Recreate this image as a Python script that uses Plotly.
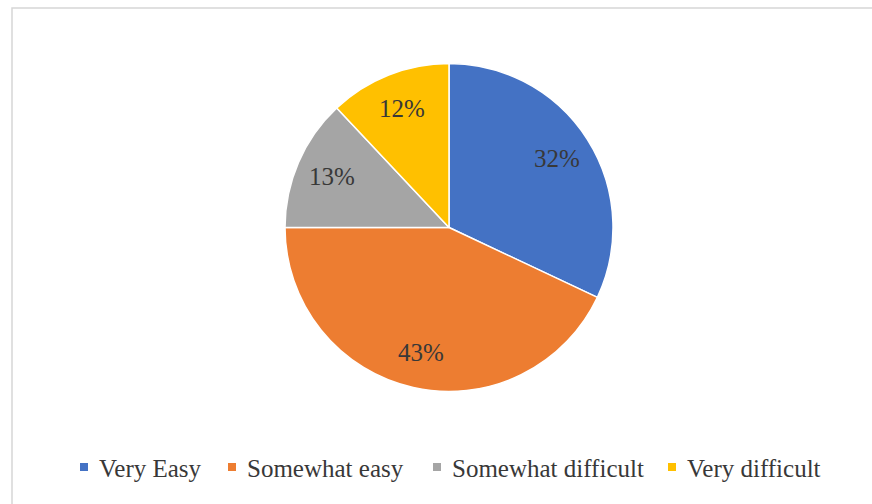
import math
import plotly.graph_objects as go

# Survey responses: how easy was it?
categories = ["Very Easy", "Somewhat easy", "Somewhat difficult", "Very difficult"]
shares = [32, 43, 13, 12]
colors = ["#4472C4", "#ED7D31", "#A5A5A5", "#FFC000"]

W, H = 872, 504
FONT = "Liberation Serif"
TEXT_COLOR = "#383838"

# Pie placement (pixels): centre and radius
cx, cy, R = 449, 227.5, 164
LABEL_R = 0.78  # data labels sit along each slice's bisector at this fraction of the radius

fig = go.Figure(
    go.Pie(
        labels=categories,
        values=shares,
        sort=False,
        direction="clockwise",
        rotation=0,
        marker=dict(colors=colors, line=dict(color="white", width=1.5)),
        textinfo="none",
        showlegend=False,
        hoverinfo="label+percent",
        domain=dict(
            x=[(cx - R) / W, (cx + R) / W],
            y=[1 - (cy + R) / H, 1 - (cy - R) / H],
        ),
    )
)

shapes = [
    # chart-area frame
    dict(type="rect", xref="paper", yref="paper",
         x0=12 / W, y0=-0.02, x1=1.02, y1=1 - 8 / H,
         line=dict(color="#d6d6d6", width=1.5), fillcolor="rgba(0,0,0,0)", layer="below"),
]
annotations = []

# Percentage labels on each slice
total = sum(shares)
cum = 0
for v in shares:
    mid = (cum + v / 2) / total * 2 * math.pi  # clockwise from 12 o'clock
    cum += v
    px = cx + LABEL_R * R * math.sin(mid)
    py = cy - LABEL_R * R * math.cos(mid)
    annotations.append(dict(text=f"{v}%", xref="paper", yref="paper",
                            x=px / W, y=1 - py / H, xanchor="center", yanchor="middle",
                            showarrow=False,
                            font=dict(family=FONT, size=25, color=TEXT_COLOR)))

# Legend row along the bottom
legend_x = [80, 228, 433, 668]
legend_y = 467
sq = 8
for name, col, lx in zip(categories, colors, legend_x):
    shapes.append(dict(type="rect", xref="paper", yref="paper",
                       x0=lx / W, x1=(lx + sq) / W,
                       y0=1 - (legend_y + sq / 2) / H, y1=1 - (legend_y - sq / 2) / H,
                       fillcolor=col, line=dict(width=0)))
    annotations.append(dict(text=name, xref="paper", yref="paper",
                            x=(lx + sq + 9) / W, y=1 - (legend_y + 1) / H,
                            xanchor="left", yanchor="middle", showarrow=False,
                            font=dict(family=FONT, size=25, color=TEXT_COLOR)))

fig.update_layout(
    width=W, height=H,
    margin=dict(l=0, r=0, t=0, b=0),
    paper_bgcolor="white",
    plot_bgcolor="white",
    font=dict(family=FONT),
    shapes=shapes,
    annotations=annotations,
)

fig.write_html("out.html")
